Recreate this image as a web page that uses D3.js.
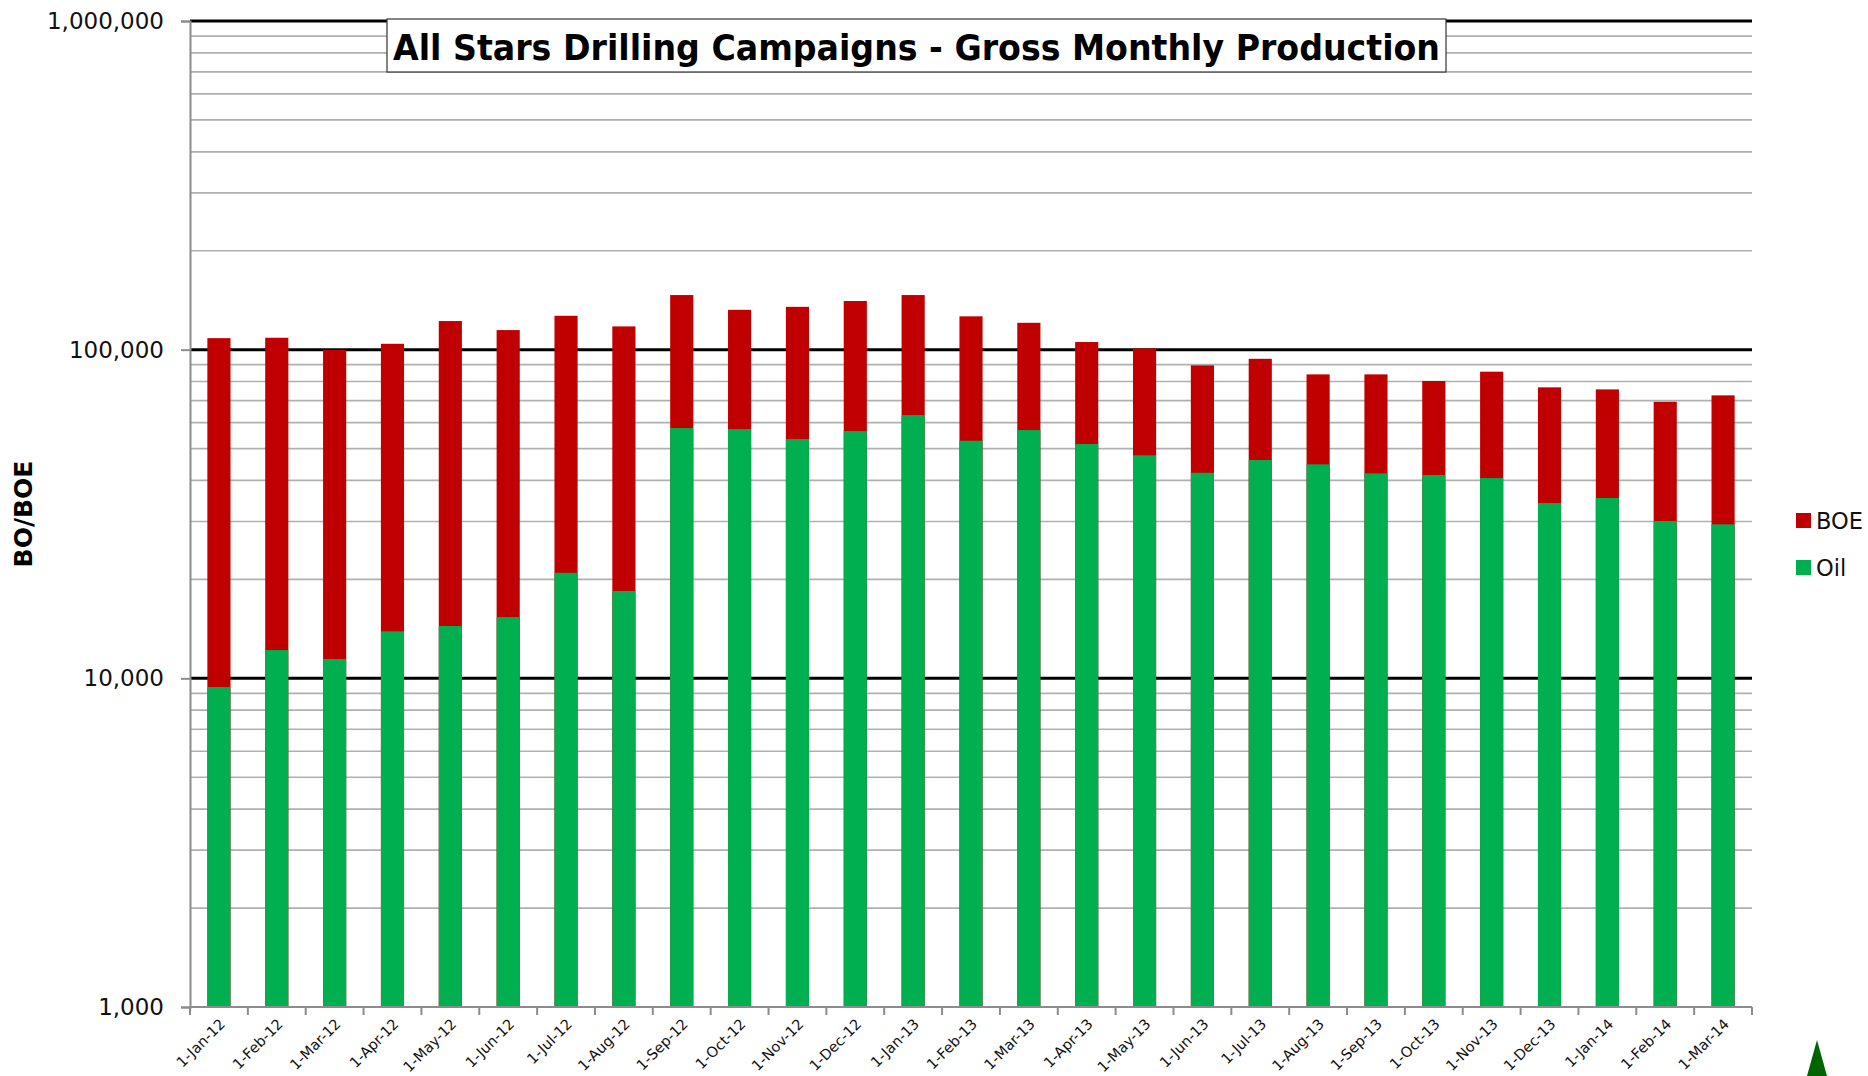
<!DOCTYPE html>
<html>
<head>
<meta charset="utf-8">
<script src="https://cdn.jsdelivr.net/npm/d3@7"></script>
<style>
  body { margin: 0; background: #fff; }
  svg { display: block; }
</style>
</head>
<body>
<div id="chart"></div>
<script>
// data
var months = ["1-Jan-12", "1-Feb-12", "1-Mar-12", "1-Apr-12", "1-May-12", "1-Jun-12", "1-Jul-12", "1-Aug-12", "1-Sep-12",
  "1-Oct-12", "1-Nov-12", "1-Dec-12", "1-Jan-13", "1-Feb-13", "1-Mar-13", "1-Apr-13", "1-May-13", "1-Jun-13",
  "1-Jul-13", "1-Aug-13", "1-Sep-13", "1-Oct-13", "1-Nov-13", "1-Dec-13", "1-Jan-14", "1-Feb-14", "1-Mar-14"];
var boe = [108400, 108700, 99900, 104200, 122200, 114700, 126800, 117700, 146600,
  132200, 135000, 140600, 146600, 126300, 120700, 105500, 100900, 89600,
  93800, 84100, 84100, 80300, 85700, 76800, 75700, 69400, 72600];
var oil = [9410, 12190, 11450, 13900, 14430, 15360, 20950, 18440, 57730,
  57330, 53460, 56520, 63240, 52830, 56930, 51620, 47700, 42220,
  46150, 44770, 42040, 41540, 40680, 34150, 35370, 30100, 29410];
var yTicks = [1000, 10000, 100000, 1000000];
var seriesNames = ["BOE", "Oil"];
var seriesColors = ["#C00000", "#00B050"];
var title = "All Stars Drilling Campaigns - Gross Monthly Production";

var W = 1868, H = 1076;
var plot = { left: 190, right: 1752, top: 21, bottom: 1007 };

var svg = d3.select("#chart").append("svg")
    .attr("width", W)
    .attr("height", H);

var x = d3.scaleBand().domain(months).range([plot.left, plot.right]).padding(0);
var y = d3.scaleLog().domain([1000, 1000000]).range([plot.bottom, plot.top]);
var barW = x.bandwidth() * 0.4;

// gridlines - minor 2..9 grey, decades black
var minor = [];
yTicks.slice(0, -1).forEach(function(d){ for (var k = 2; k < 10; k++) minor.push(d * k); });
svg.append("g").selectAll("line").data(minor).enter().append("line")
    .attr("x1", plot.left).attr("x2", plot.right)
    .attr("y1", function(d){ return y(d); }).attr("y2", function(d){ return y(d); })
    .attr("stroke", "#b0b0b0").attr("stroke-width", 1.7);
svg.append("g").selectAll("line").data(yTicks.slice(1)).enter().append("line")
    .attr("x1", plot.left).attr("x2", plot.right)
    .attr("y1", function(d){ return y(d); }).attr("y2", function(d){ return y(d); })
    .attr("stroke", "#000").attr("stroke-width", 3);

// bars: BOE full height behind, oil in front
svg.append("g").selectAll("rect").data(boe).enter().append("rect")
    .attr("x", function(d, i){ return x(months[i]) + (x.bandwidth() - barW) / 2; })
    .attr("y", function(d){ return y(d); })
    .attr("width", barW)
    .attr("height", function(d){ return plot.bottom - y(d); })
    .attr("fill", seriesColors[0]);
svg.append("g").selectAll("rect").data(oil).enter().append("rect")
    .attr("x", function(d, i){ return x(months[i]) + (x.bandwidth() - barW) / 2; })
    .attr("y", function(d){ return y(d); })
    .attr("width", barW)
    .attr("height", function(d){ return plot.bottom - y(d); })
    .attr("fill", seriesColors[1]);

// y axis
var yAxis = svg.append("g")
    .attr("transform", "translate(" + plot.left + ",0)")
    .call(d3.axisLeft(y).tickValues(yTicks).tickFormat(d3.format(",")).tickSize(9).tickPadding(17));
yAxis.select(".domain").attr("stroke", "#8c8c8c").attr("stroke-width", 2);
yAxis.selectAll(".tick line").attr("stroke", "#8c8c8c").attr("stroke-width", 2);
yAxis.selectAll("text")
    .style("font-family", "DejaVu Sans")
    .style("font-size", "23px")
    .attr("fill", "#111");

// x axis line and ticks at band edges
var edges = months.map(function(m){ return x(m); }).concat([plot.right]);
svg.append("line")
    .attr("x1", plot.left).attr("x2", plot.right)
    .attr("y1", plot.bottom).attr("y2", plot.bottom)
    .attr("stroke", "#8c8c8c").attr("stroke-width", 2);
svg.append("g").selectAll("line").data(edges).enter().append("line")
    .attr("x1", function(d){ return d; }).attr("x2", function(d){ return d; })
    .attr("y1", plot.bottom).attr("y2", plot.bottom + 8)
    .attr("stroke", "#8c8c8c").attr("stroke-width", 2);
svg.append("g").selectAll("text").data(months).enter().append("text")
    .text(function(d){ return d; })
    .attr("transform", function(d){
      return "translate(" + (x(d) + x.bandwidth() / 2 + 7) + "," + (plot.bottom + 18) + ") rotate(-45)";
    })
    .style("text-anchor", "end")
    .style("font-family", "DejaVu Sans")
    .style("font-size", "14.5px")
    .attr("fill", "#111");

// y axis title
svg.append("text")
    .text("BO/BOE")
    .attr("transform", "translate(32,514) rotate(-90)")
    .style("text-anchor", "middle")
    .style("font-family", "DejaVu Sans")
    .style("font-weight", "bold")
    .style("font-size", "25px")
    .attr("fill", "#000");

// title box
svg.append("rect")
    .attr("x", 387).attr("y", 19)
    .attr("width", 1059).attr("height", 53)
    .attr("fill", "#fff")
    .attr("stroke", "#333").attr("stroke-width", 1.2);
svg.append("text")
    .text(title)
    .attr("x", 393).attr("y", 60)
    .attr("textLength", 1047)
    .attr("lengthAdjust", "spacingAndGlyphs")
    .style("font-family", "DejaVu Sans")
    .style("font-weight", "bold")
    .style("font-size", "36px")
    .attr("fill", "#000");

// legend
var legend = svg.append("g").selectAll("g").data(seriesNames).enter().append("g")
    .attr("transform", function(d, i){ return "translate(1796," + (513 + i * 47) + ")"; });
legend.append("rect")
    .attr("width", 15).attr("height", 15)
    .attr("fill", function(d, i){ return seriesColors[i]; });
legend.append("text")
    .text(function(d){ return d; })
    .attr("x", 20).attr("y", 16)
    .style("font-family", "DejaVu Sans")
    .style("font-size", "22.5px")
    .attr("fill", "#111");

// small green marker at bottom right corner
svg.append("path")
    .attr("d", "M1817,1040 L1827,1076 L1807,1076 Z")
    .attr("fill", "#006400");
</script>
</body>
</html>
